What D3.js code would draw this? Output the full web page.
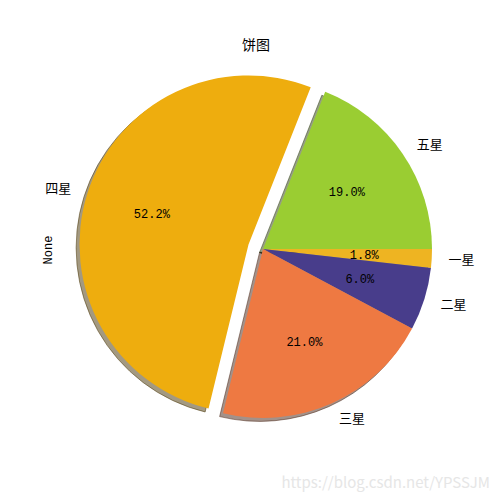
<!DOCTYPE html>
<html>
<head>
<meta charset="utf-8">
<script src="https://cdn.jsdelivr.net/npm/d3@7"></script>
<style>
  body { margin: 0; background: #fff; }
  text { font-family: "Noto Sans CJK SC", sans-serif; }
  .pct { font-family: "Liberation Mono", monospace; font-size: 12px; }
</style>
</head>
<body>
<div id="chart"></div>
<script>
const labels = ["一星", "二星", "三星", "四星", "五星"];
const values = [1.8, 6.0, 21.0, 52.2, 19.0];
const colors = ["#EEB422", "#483D8B", "#EE7942", "#EEAD0E", "#9ACD32"];
const explode = [0, 0, 0, 0.09, 0];

const width = 500, height = 500;
const cx = 263, cy = 249, r = 169;

const svg = d3.select("#chart").append("svg")
  .attr("width", width)
  .attr("height", height);

// clockwise, starting at 3 o'clock like matplotlib counterclock=False
const pie = d3.pie().sort(null).value(d => d)
  .startAngle(Math.PI / 2).endAngle(Math.PI / 2 + 2 * Math.PI);
const arcs = pie(values);
const arc = d3.arc().innerRadius(0).outerRadius(r);

const mid = d => (d.startAngle + d.endAngle) / 2;
const offset = (d, i) => {
  const a = mid(d), e = explode[i] * r;
  return [cx + e * Math.sin(a), cy - e * Math.cos(a)];
};
const darker = c => {
  const col = d3.rgb(c);
  return d3.rgb(col.r * 0.3, col.g * 0.3, col.b * 0.3).toString();
};

const g = svg.append("g");

// shadows first
g.selectAll("path.shadow")
  .data(arcs)
  .enter().append("path")
  .attr("class", "shadow")
  .attr("d", arc)
  .attr("transform", (d, i) => {
    const [x, y] = offset(d, i);
    return `translate(${x - 3.4},${y + 3.4})`;
  })
  .attr("fill", (d, i) => darker(colors[i]))
  .attr("fill-opacity", 0.5)
  .attr("stroke", (d, i) => darker(colors[i]))
  .attr("stroke-opacity", 0.5)
  .attr("stroke-width", 1);

g.selectAll("path.slice")
  .data(arcs)
  .enter().append("path")
  .attr("class", "slice")
  .attr("d", arc)
  .attr("transform", (d, i) => {
    const [x, y] = offset(d, i);
    return `translate(${x},${y})`;
  })
  .attr("fill", (d, i) => colors[i]);

// category labels at 1.1 r
g.selectAll("text.label")
  .data(arcs)
  .enter().append("text")
  .attr("class", "label")
  .attr("x", (d, i) => offset(d, i)[0] + 1.1 * r * Math.sin(mid(d)))
  .attr("y", (d, i) => offset(d, i)[1] - 1.1 * r * Math.cos(mid(d)))
  .attr("dy", "0.35em")
  .attr("text-anchor", d => Math.sin(mid(d)) > 0 ? "start" : "end")
  .attr("font-size", 13)
  .attr("fill", "#000")
  .text((d, i) => labels[i]);

// percentages at 0.6 r
g.selectAll("text.pct")
  .data(arcs)
  .enter().append("text")
  .attr("class", "pct")
  .attr("x", (d, i) => offset(d, i)[0] + 0.6 * r * Math.sin(mid(d)))
  .attr("y", (d, i) => offset(d, i)[1] - 0.6 * r * Math.cos(mid(d)))
  .attr("dy", "0.35em")
  .attr("text-anchor", "middle")
  .attr("fill", "#000")
  .text(d => d3.format(".1f")(d.value) + "%");

svg.append("text")
  .attr("x", 256)
  .attr("y", 50)
  .attr("text-anchor", "middle")
  .attr("font-size", 14)
  .text("饼图");

svg.append("text")
  .attr("class", "pct")
  .attr("transform", "translate(52,250) rotate(-90)")
  .attr("text-anchor", "middle")
  .text("None");

svg.append("text")
  .attr("x", 490)
  .attr("y", 488)
  .attr("text-anchor", "end")
  .attr("font-family", "Liberation Sans, sans-serif")
  .attr("font-size", 15)
  .attr("fill", "#e6e6e6")
  .text("https://blog.csdn.net/YPSSJM");
</script>
</body>
</html>
